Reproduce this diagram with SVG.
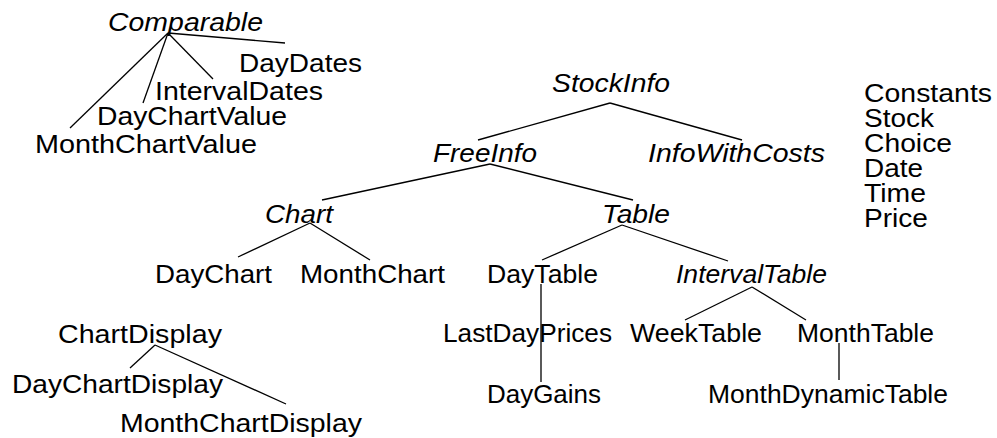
<svg xmlns="http://www.w3.org/2000/svg" width="997" height="438" viewBox="0 0 997 438">
<style>
text{font-family:"Liberation Sans",Arial,sans-serif;font-size:25px;fill:#000}
.i{font-style:italic}
.c line{stroke:#000;stroke-width:1.3}
</style>
<rect width="997" height="438" fill="#fff"/>
<g class="c" id="connectors">
<line x1="168" y1="33" x2="285" y2="43"/>
<line x1="168" y1="33" x2="213" y2="79"/>
<line x1="168" y1="33" x2="143" y2="103"/>
<line x1="168" y1="33" x2="70" y2="128"/>
<line x1="610" y1="103" x2="478" y2="140"/>
<line x1="610" y1="103" x2="742" y2="140"/>
<line x1="490" y1="164" x2="322" y2="200"/>
<line x1="490" y1="164" x2="633" y2="200"/>
<line x1="310" y1="223" x2="238" y2="257"/>
<line x1="310" y1="223" x2="370" y2="260"/>
<line x1="622" y1="225" x2="542" y2="260"/>
<line x1="622" y1="225" x2="728" y2="261"/>
<line x1="541" y1="284" x2="541" y2="382"/>
<line x1="752" y1="287" x2="685" y2="320"/>
<line x1="752" y1="287" x2="806" y2="320"/>
<line x1="839" y1="343" x2="839" y2="380"/>
<line x1="155" y1="345" x2="130" y2="368"/>
<line x1="155" y1="345" x2="286" y2="404"/>
</g>
<g id="Comparable"><text class="i" x="108" y="31" textLength="155" lengthAdjust="spacingAndGlyphs">Comparable</text></g>
<g id="DayDates"><text x="239" y="72" textLength="123" lengthAdjust="spacingAndGlyphs">DayDates</text></g>
<g id="IntervalDates"><text x="155" y="100" textLength="168" lengthAdjust="spacingAndGlyphs">IntervalDates</text></g>
<g id="DayChartValue"><text x="97" y="125" textLength="190" lengthAdjust="spacingAndGlyphs">DayChartValue</text></g>
<g id="MonthChartValue"><text x="35" y="153" textLength="222" lengthAdjust="spacingAndGlyphs">MonthChartValue</text></g>
<g id="StockInfo"><text class="i" x="552" y="92" textLength="118" lengthAdjust="spacingAndGlyphs">StockInfo</text></g>
<g id="FreeInfo"><text class="i" x="433" y="162" textLength="104" lengthAdjust="spacingAndGlyphs">FreeInfo</text></g>
<g id="InfoWithCosts"><text class="i" x="648" y="162" textLength="177" lengthAdjust="spacingAndGlyphs">InfoWithCosts</text></g>
<g id="Chart"><text class="i" x="265" y="223" textLength="68" lengthAdjust="spacingAndGlyphs">Chart</text></g>
<g id="Table"><text class="i" x="602" y="223" textLength="68" lengthAdjust="spacingAndGlyphs">Table</text></g>
<g id="DayChart"><text x="155" y="283" textLength="117" lengthAdjust="spacingAndGlyphs">DayChart</text></g>
<g id="MonthChart"><text x="300" y="283" textLength="145" lengthAdjust="spacingAndGlyphs">MonthChart</text></g>
<g id="DayTable"><text x="487" y="283" textLength="111" lengthAdjust="spacingAndGlyphs">DayTable</text></g>
<g id="IntervalTable"><text class="i" x="676" y="283" textLength="151" lengthAdjust="spacingAndGlyphs">IntervalTable</text></g>
<g id="LastDayPrices"><text x="443" y="342" textLength="169" lengthAdjust="spacingAndGlyphs">LastDayPrices</text></g>
<g id="WeekTable"><text x="630" y="342" textLength="132" lengthAdjust="spacingAndGlyphs">WeekTable</text></g>
<g id="MonthTable"><text x="797" y="342" textLength="137" lengthAdjust="spacingAndGlyphs">MonthTable</text></g>
<g id="DayGains"><text x="487" y="403" textLength="114" lengthAdjust="spacingAndGlyphs">DayGains</text></g>
<g id="MonthDynamicTable"><text x="708" y="403" textLength="240" lengthAdjust="spacingAndGlyphs">MonthDynamicTable</text></g>
<g id="ChartDisplay"><text x="58" y="343" textLength="164" lengthAdjust="spacingAndGlyphs">ChartDisplay</text></g>
<g id="DayChartDisplay"><text x="12" y="393" textLength="211" lengthAdjust="spacingAndGlyphs">DayChartDisplay</text></g>
<g id="MonthChartDisplay"><text x="120" y="432" textLength="242" lengthAdjust="spacingAndGlyphs">MonthChartDisplay</text></g>
<g id="Constants"><text x="864" y="101.5" textLength="128" lengthAdjust="spacingAndGlyphs">Constants</text></g>
<g id="Stock"><text x="864" y="126.5" textLength="70" lengthAdjust="spacingAndGlyphs">Stock</text></g>
<g id="Choice"><text x="864" y="151.5" textLength="88" lengthAdjust="spacingAndGlyphs">Choice</text></g>
<g id="Date"><text x="864" y="176.5" textLength="59" lengthAdjust="spacingAndGlyphs">Date</text></g>
<g id="Time"><text x="864" y="201.5" textLength="62" lengthAdjust="spacingAndGlyphs">Time</text></g>
<g id="Price"><text x="864" y="226.5" textLength="64" lengthAdjust="spacingAndGlyphs">Price</text></g>
</svg>
